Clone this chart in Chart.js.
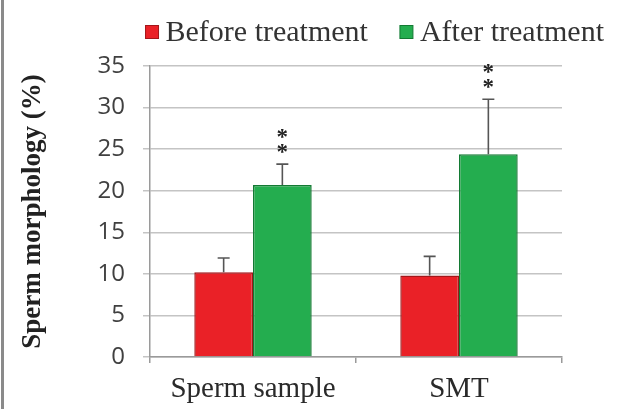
<!DOCTYPE html>
<html lang="en">
<head>
    <meta charset="UTF-8">
    <title>Sperm morphology</title>
    <script src="https://cdn.jsdelivr.net/npm/chart.js@4.4.1/dist/chart.umd.min.js"></script>
    <style>
        * { margin: 0; padding: 0; box-sizing: border-box; }
        body { background: #ffffff; }
        .wrap {
            position: relative;
            width: 618px;
            height: 409px;
        }
        .edge {
            position: absolute;
            left: 1px;
            top: 0;
            width: 3px;
            height: 409px;
            background: #8a8a8a;
        }
    </style>
</head>
<body>
    <div class="wrap">
        <canvas id="chart"></canvas>
        <div class="edge"></div>
    </div>

    <script>
        // data
        const categories = ['Sperm sample', 'SMT'];
        const seriesNames = ['Before treatment', 'After treatment'];
        const beforeValues = [10.2, 9.8];
        const afterValues = [20.7, 24.4];
        const beforeErrors = [1.7, 2.3];
        const afterErrors = [2.5, 6.6];
        const afterMarks = ['**', '**'];
        const yTicks = [0, 5, 10, 15, 20, 25, 30, 35];

        const serif = "'Liberation Serif', 'Times New Roman', serif";

        // error bars + significance stars
        const errorBars = {
            id: 'errorBars',
            afterDatasetsDraw(chart) {
                const ctx = chart.ctx;
                const y = chart.scales.y;
                chart.data.datasets.forEach((ds, i) => {
                    const meta = chart.getDatasetMeta(i);
                    meta.data.forEach((bar, j) => {
                        const top = y.getPixelForValue(ds.data[j] + ds.errors[j]);
                        ctx.save();
                        ctx.strokeStyle = '#555555';
                        ctx.lineWidth = 1.6;
                        ctx.beginPath();
                        ctx.moveTo(bar.x, bar.y);
                        ctx.lineTo(bar.x, top);
                        ctx.moveTo(bar.x - 6, top);
                        ctx.lineTo(bar.x + 6, top);
                        ctx.stroke();
                        if (ds.marks && ds.marks[j]) {
                            ctx.fillStyle = '#222222';
                            ctx.font = 'bold 23px ' + serif;
                            ctx.textAlign = 'center';
                            ctx.textBaseline = 'middle';
                            ds.marks[j].split('').forEach((m, k) => {
                                ctx.fillText(m, bar.x, top - 11 - k * 15);
                            });
                        }
                        ctx.restore();
                    });
                });
            }
        };

        // legend drawn at the top right
        const topLegend = {
            id: 'topLegend',
            afterDraw(chart) {
                const ctx = chart.ctx;
                ctx.save();
                ctx.font = '30px ' + serif;
                ctx.textBaseline = 'middle';
                const box = 13, gap = 7, between = 32;
                const widths = chart.data.datasets.map(ds => ctx.measureText(ds.label).width);
                let total = 0;
                widths.forEach((w, i) => { total += box + gap + w + (i ? between : 0); });
                let x = 604 - total;
                const yMid = 32;
                chart.data.datasets.forEach((ds, i) => {
                    if (i) x += between;
                    ctx.fillStyle = ds.backgroundColor;
                    ctx.strokeStyle = ds.borderColor;
                    ctx.lineWidth = 1;
                    ctx.fillRect(x, yMid - box / 2, box, box);
                    ctx.strokeRect(x, yMid - box / 2, box, box);
                    x += box + gap;
                    ctx.fillStyle = '#333333';
                    ctx.fillText(ds.label, x, yMid + 1);
                    x += widths[i];
                });
                ctx.restore();
            }
        };

        const data = {
            labels: categories,
            datasets: [
                {
                    label: seriesNames[0],
                    data: beforeValues,
                    errors: beforeErrors,
                    backgroundColor: '#ea2127',
                    borderColor: '#a3161a',
                    borderWidth: 1.5
                },
                {
                    label: seriesNames[1],
                    data: afterValues,
                    errors: afterErrors,
                    marks: afterMarks,
                    backgroundColor: '#24ad4f',
                    borderColor: '#137a33',
                    borderWidth: 1.5
                }
            ]
        };

        const config = {
            type: 'bar',
            data: data,
            options: {
                responsive: true,
                maintainAspectRatio: false,
                animation: false,
                layout: {
                    padding: { top: 66, right: 56, bottom: 0, left: 0 }
                },
                datasets: {
                    bar: {
                        categoryPercentage: 0.57,
                        barPercentage: 1.0
                    }
                },
                plugins: {
                    legend: { display: false },
                    tooltip: { enabled: false }
                },
                scales: {
                    x: {
                        grid: {
                            offset: true,
                            drawOnChartArea: false,
                            drawTicks: true,
                            tickLength: 6,
                            color: '#9a9a9a',
                            lineWidth: 1.5
                        },
                        border: { color: '#9a9a9a', width: 1.5 },
                        ticks: {
                            color: '#2a2a2a',
                            padding: 9,
                            font: { family: serif, size: 29 }
                        },
                        afterFit(scale) { scale.height = 52; }
                    },
                    y: {
                        min: 0,
                        max: 35,
                        afterBuildTicks(scale) {
                            scale.ticks = yTicks.map(v => ({ value: v }));
                        },
                        grid: {
                            color: '#c4c4c4',
                            lineWidth: 1.5,
                            tickLength: 7
                        },
                        border: { color: '#9a9a9a', width: 1.5 },
                        ticks: {
                            color: '#404040',
                            padding: 18,
                            font: { family: "'Open Sans', sans-serif", size: 24 }
                        },
                        title: {
                            display: true,
                            text: 'Sperm morphology (%)',
                            color: '#222222',
                            padding: { top: 17, bottom: 0 },
                            font: { family: serif, size: 27, weight: 'bold' }
                        },
                        afterFit(scale) { scale.width = 150; }
                    }
                }
            },
            plugins: [errorBars, topLegend]
        };

        const chart = new Chart(document.getElementById('chart'), config);
    </script>
</body>
</html>
